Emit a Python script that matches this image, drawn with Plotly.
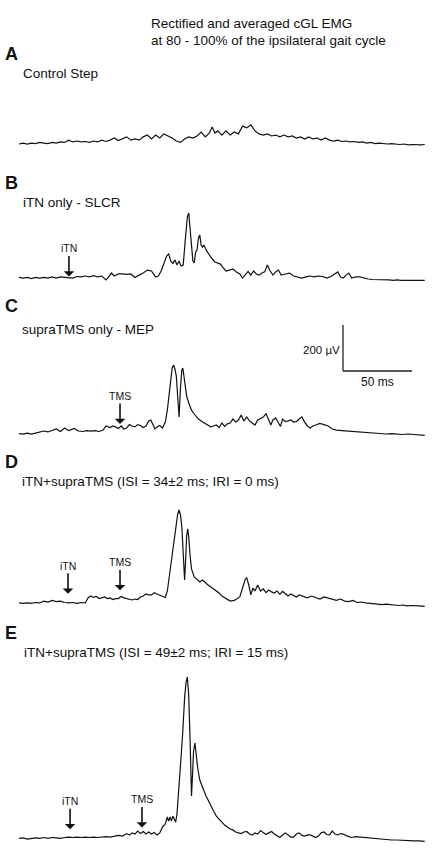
import numpy as np
import plotly.graph_objects as go

# ---- data: rectified, averaged cGL EMG (time in ms, amplitude in µV) ----
a_t = [0, 3, 6, 9, 12, 15, 18, 21, 24, 27,
       30, 33, 36, 39, 42, 45, 48, 51, 54, 57,
       60, 63, 66, 69, 72, 75, 78, 81, 84, 87,
       90, 93, 96, 99, 102, 105, 108, 111, 114, 117,
       120, 123, 126, 129, 132, 135, 138, 140, 142, 144,
       147, 150, 153, 156, 159, 162, 165, 168, 171, 174,
       177, 180, 183, 186, 189, 192, 195, 198, 201, 204,
       207, 210, 213, 216, 219, 222, 225, 228, 231, 234,
       237, 240, 243, 246, 249, 252, 255, 258, 261, 264,
       267, 270, 273, 276, 279, 282, 285, 288, 291, 294]
a_uv = [26, 30, 26, 30, 28, 33, 30, 28, 33, 30,
        35, 33, 43, 35, 39, 35, 37, 33, 39, 35,
        43, 37, 43, 52, 41, 48, 57, 43, 48, 43,
        57, 65, 48, 65, 52, 70, 61, 52, 39, 33,
        48, 57, 52, 61, 78, 57, 74, 100, 74, 83,
        65, 83, 65, 78, 70, 104, 96, 109, 83, 70,
        65, 70, 61, 65, 57, 65, 57, 61, 52, 57,
        48, 57, 48, 52, 43, 52, 43, 39, 43, 37,
        39, 35, 37, 33, 35, 30, 33, 28, 30, 28,
        26, 28, 26, 24, 26, 22, 24, 22, 22, 24]

b_t = [0, 3, 6, 9, 12, 15, 18, 21, 24, 27,
       30, 33, 36, 39, 42, 45, 48, 51, 54, 57,
       60, 63, 65, 67, 69, 72, 75, 78, 81, 84,
       87, 90, 93, 96, 99, 101, 103, 105, 107, 108.5,
       110, 111.5, 113, 114.5, 116, 117.5, 119, 120.5, 122, 123,
       124, 125, 126, 127, 128, 129, 130, 131, 132, 133,
       134, 136, 138, 140, 142, 144, 146, 148, 150, 152.5,
       155, 157.5, 160, 162, 164, 166, 168, 170, 172, 174,
       176, 178, 180, 182, 184, 186, 188, 190, 193, 196,
       199, 202, 205, 208, 211, 214, 217, 220, 223, 226,
       229, 231, 233, 235, 237, 239, 241, 244, 247, 250,
       253, 256, 259, 262, 265, 268, 271, 274, 277, 280,
       283, 286, 289, 292, 294]
b_uv = [33, 30, 33, 28, 33, 30, 33, 30, 35, 30,
        35, 33, 33, 30, 37, 35, 39, 35, 41, 35,
        39, 22, 35, 52, 39, 48, 48, 46, 48, 33,
        43, 52, 65, 61, 35, 39, 61, 91, 126, 135,
        104, 94, 109, 87, 104, 83, 87, 196, 296, 313,
        252, 174, 104, 96, 144, 152, 204, 217, 174, 165,
        174, 148, 130, 113, 100, 96, 91, 74, 61, 65,
        70, 57, 48, 30, 43, 59, 43, 61, 48, 43,
        52, 57, 87, 61, 43, 57, 65, 43, 48, 52,
        39, 35, 30, 35, 39, 35, 39, 37, 30, 37,
        48, 57, 35, 30, 43, 52, 30, 35, 35, 30,
        26, 24, 24, 22, 24, 22, 20, 22, 20, 20,
        17, 20, 17, 17, 20]

c_t = [0, 3, 6, 9, 12, 15, 18, 21, 24, 27,
       30, 33, 36, 38, 40, 43, 46, 49, 52, 55,
       58, 61, 63, 66, 68, 70, 72, 74, 76, 78,
       80, 82, 84, 86, 88, 90, 92, 94, 95.5, 97,
       98.5, 100, 102, 104, 106, 107.5, 109, 110, 111, 112,
       113, 114, 115, 116, 117, 118, 118.7, 120, 121.5, 123,
       125, 127, 130, 133, 136, 139, 141, 143, 145, 147,
       149, 151, 153, 155, 157, 159, 161, 163, 165, 167,
       169, 171, 173, 175, 177, 179, 181, 182.5, 184, 186,
       188, 189.5, 191, 193, 195, 197, 199, 201, 203, 205,
       207, 209, 211, 213, 215, 218, 221, 224, 227, 230,
       234, 238, 242, 246, 250, 254, 258, 262, 266, 270,
       274, 278, 282, 286, 290, 294]
c_uv = [28, 26, 30, 26, 30, 35, 39, 35, 41, 48,
        37, 52, 41, 46, 50, 39, 37, 41, 39, 41,
        37, 43, 61, 54, 61, 57, 50, 61, 48, 52,
        67, 61, 57, 67, 63, 54, 61, 83, 87, 67,
        48, 57, 63, 52, 78, 130, 217, 274, 313, 326,
        309, 278, 196, 100, 226, 304, 313, 244, 191, 161,
        130, 113, 91, 78, 67, 57, 61, 65, 54, 74,
        59, 70, 74, 91, 78, 87, 109, 83, 100, 83,
        74, 65, 87, 94, 100, 115, 87, 65, 87, 96,
        74, 59, 91, 80, 83, 87, 78, 80, 91, 100,
        78, 61, 52, 61, 65, 72, 67, 61, 48, 43,
        41, 39, 37, 35, 33, 30, 30, 28, 26, 28,
        26, 24, 26, 24, 22, 20]

d_t = [0, 3, 6, 9, 12, 15, 18, 21, 24, 27,
       30, 33, 36, 39, 42, 45, 48, 50, 52, 54,
       56, 58, 60, 62, 64, 66, 68, 70, 72, 74,
       76, 78, 80, 82, 84, 86, 88, 90, 92, 94,
       96, 98, 100, 102, 104, 106, 107.5, 109, 110.5, 112,
       113.5, 115, 116, 117, 118, 119, 120, 120.7, 121.5, 122.3,
       123, 124, 125, 127, 129, 131, 133, 135, 137, 139,
       141, 143, 145, 147, 149, 151, 153, 156, 158, 160,
       162, 164, 165, 166.5, 168, 169.5, 171, 173, 175, 177,
       179, 181, 183, 185, 187, 189, 191, 193, 195, 197,
       199, 201, 203, 206, 209, 212, 215, 218, 221, 224,
       227, 230, 233, 236, 239, 242, 245, 248, 251, 254,
       257, 260, 263, 266, 269, 272, 275, 278, 281, 284,
       287, 290, 294]
d_uv = [35, 33, 35, 33, 37, 35, 43, 39, 46, 41,
        43, 37, 35, 37, 33, 37, 35, 57, 65, 59,
        63, 54, 57, 61, 54, 57, 50, 54, 54, 63,
        57, 54, 50, 48, 52, 50, 61, 65, 74, 70,
        70, 80, 74, 70, 65, 59, 87, 152, 217, 296,
        365, 422, 439, 418, 365, 239, 135, 217, 326, 357,
        322, 239, 183, 148, 135, 126, 135, 122, 113, 104,
        96, 87, 78, 65, 57, 48, 43, 46, 52, 61,
        100, 139, 144, 113, 70, 100, 87, 113, 87, 96,
        80, 91, 83, 78, 87, 72, 85, 76, 65, 74,
        68, 61, 70, 63, 57, 65, 59, 52, 61, 55,
        50, 46, 52, 43, 41, 46, 37, 39, 35, 33,
        33, 30, 28, 30, 28, 26, 24, 26, 22, 24,
        24, 22, 20]

e_t = [0, 3, 6, 9, 12, 15, 18, 21, 24, 27,
       30, 33, 36, 39, 42, 45, 48, 51, 54, 57,
       60, 63, 66, 69, 72, 75, 78, 80, 82, 84,
       86, 88, 90, 92, 94, 96, 98, 100, 102, 104,
       106, 107.5, 108.5, 109.5, 110.5, 111.5, 112.5, 113.5, 114.5, 115.5,
       117, 118.5, 120, 121, 122, 123, 124, 125, 125.7, 126.5,
       127.5, 128.5, 129.5, 131, 132.5, 134, 135.5, 137, 139, 141,
       143, 145, 147, 149, 151, 153, 155, 157, 159, 161,
       163, 165, 167, 169, 171, 173, 175, 177, 179, 181,
       183, 185, 187, 189, 191, 193, 195, 197, 199, 201,
       203, 205, 207, 209, 211, 213, 215, 217, 219, 221,
       223, 225, 227, 229, 231, 233, 235, 238, 241, 244,
       247, 250, 254, 258, 262, 266, 270, 274, 278, 282,
       286, 290, 294]
e_uv = [33, 35, 30, 33, 35, 33, 37, 33, 37, 35,
        33, 37, 39, 37, 39, 37, 39, 37, 39, 37,
        39, 41, 39, 43, 46, 43, 54, 48, 57, 52,
        65, 54, 63, 52, 61, 52, 59, 48, 57, 83,
        96, 126, 109, 126, 109, 130, 117, 104, 139, 217,
        348, 478, 644, 709, 735, 652, 457, 217, 304, 413,
        448, 391, 339, 287, 261, 239, 217, 200, 174, 152,
        130, 117, 100, 91, 83, 74, 70, 61, 57, 54,
        61, 63, 52, 48, 57, 52, 67, 57, 50, 57,
        63, 52, 43, 37, 48, 57, 48, 39, 39, 52,
        57, 46, 43, 48, 48, 43, 37, 43, 57, 61,
        50, 48, 65, 52, 48, 54, 52, 43, 37, 41,
        39, 37, 35, 33, 30, 28, 26, 26, 24, 24,
        22, 22, 20]

# stimulus times (ms)
b_stims = [("iTN", 36.2)]
c_stims = [("TMS", 73.2)]
d_stims = [("iTN", 35.5), ("TMS", 73.2)]
e_stims = [("iTN", 37.0), ("TMS", 89.1)]

# ---- layout geometry ----
W, H = 432, 850
UV_PER_PX = 200 / 46     # 200 µV calibration bar
MS_PER_PX = 50 / 69      # 50 ms calibration bar
X0 = 19                  # screen x of t = 0
FONT = "Liberation Sans, Arial, sans-serif"

panels = [
    dict(letter="A", label="Control Step", t=a_t, uv=a_uv, stims=[],
         top=100, bottom=160, zero=150, letter_y=54, label_y=73, label_x=21, gaps=[]),
    dict(letter="B", label="iTN only - SLCR", t=b_t, uv=b_uv, stims=b_stims,
         top=200, bottom=295, zero=285, letter_y=183, label_y=202, label_x=21, gaps=[1]),
    dict(letter="C", label="supraTMS only - MEP", t=c_t, uv=c_uv, stims=c_stims,
         top=318, bottom=450, zero=440, letter_y=306, label_y=330, label_x=20, gaps=[3]),
    dict(letter="D", label="iTN+supraTMS (ISI = 34\u00b12 ms; IRI = 0 ms)", t=d_t, uv=d_uv,
         stims=d_stims, top=500, bottom=620, zero=611, letter_y=462, label_y=482,
         label_x=20, gaps=[9, 7]),
    dict(letter="E", label="iTN+supraTMS (ISI = 49\u00b12 ms; IRI = 15 ms)", t=e_t, uv=e_uv,
         stims=e_stims, top=665, bottom=850, zero=846, letter_y=633, label_y=652,
         label_x=22, gaps=[8, 5]),
]

fig = go.Figure()
annotations = []
shapes = []


def paper(x, y):
    return x / W, 1 - y / H


layout_axes = {}
for i, p in enumerate(panels):
    n = "" if i == 0 else str(i + 1)
    yname = "y" + n
    fig.add_trace(go.Scatter(
        x=p["t"], y=p["uv"], mode="lines", xaxis="x", yaxis=yname,
        line=dict(color="#111111", width=1.2), hoverinfo="skip", showlegend=False))
    layout_axes["yaxis" + n] = dict(
        domain=[1 - p["bottom"] / H, 1 - p["top"] / H],
        range=[(p["zero"] - p["bottom"]) * UV_PER_PX, (p["zero"] - p["top"]) * UV_PER_PX],
        anchor="x", visible=False, fixedrange=True)

    lx, ly = paper(3, p["letter_y"])
    annotations.append(dict(text="<b>%s</b>" % p["letter"], x=lx, y=ly, xref="paper",
                            yref="paper", xanchor="left", yanchor="middle", showarrow=False,
                            font=dict(family=FONT, size=18, color="#111111")))
    tx, ty = paper(p["label_x"], p["label_y"])
    annotations.append(dict(text=p["label"], x=tx, y=ty, xref="paper", yref="paper",
                            xanchor="left", yanchor="middle", showarrow=False,
                            font=dict(family=FONT, size=13.5, color="#111111")))

    for (name, ts), gap in zip(p["stims"], p["gaps"]):
        level = float(np.interp(ts, p["t"], p["uv"])) + gap * UV_PER_PX
        annotations.append(dict(text=name, x=ts, y=level, xref="x", yref=yname,
                                showarrow=True, arrowhead=1, arrowsize=1.1, arrowwidth=1.6,
                                arrowcolor="#111111", ax=0, ay=-28, standoff=0,
                                font=dict(family=FONT, size=10.5, color="#111111")))

# title
for txt, yy in [("Rectified and averaged cGL EMG", 24),
                 ("at 80 - 100% of the ipsilateral gait cycle", 40)]:
    px_, py_ = paper(149, yy)
    annotations.append(dict(text=txt, x=px_, y=py_, xref="paper", yref="paper",
                            xanchor="left", yanchor="middle", showarrow=False,
                            font=dict(family=FONT, size=13.5, color="#111111")))

# calibration bar in panel C
bar_t = (343 - X0) * MS_PER_PX
bar_base = (440 - 371) * UV_PER_PX
shapes.append(dict(type="line", xref="x", yref="y3", x0=bar_t, x1=bar_t,
                   y0=bar_base, y1=bar_base + 200, line=dict(color="#222222", width=1.3)))
shapes.append(dict(type="line", xref="x", yref="y3", x0=bar_t, x1=bar_t + 50,
                   y0=bar_base, y1=bar_base, line=dict(color="#222222", width=1.3)))
annotations.append(dict(text="200 \u00b5V", x=bar_t, y=bar_base + 92, xref="x", yref="y3",
                        xanchor="right", yanchor="middle", xshift=-1, showarrow=False,
                        font=dict(family=FONT, size=11.5, color="#111111")))
annotations.append(dict(text="50 ms", x=bar_t + 25, y=bar_base - 48, xref="x", yref="y3",
                        xanchor="center", yanchor="middle", showarrow=False,
                        font=dict(family=FONT, size=12, color="#111111")))

fig.update_layout(
    width=W, height=H, margin=dict(l=0, r=0, t=0, b=0),
    paper_bgcolor="white", plot_bgcolor="white",
    xaxis=dict(domain=[0, 1], range=[-X0 * MS_PER_PX, (W - X0) * MS_PER_PX],
               visible=False, fixedrange=True),
    annotations=annotations, shapes=shapes, **layout_axes)

# the page's default body margin would shift the figure by 8 px
fig.write_html("out.html", config={"displayModeBar": False},
               post_script="document.body.style.margin='0';"
               "document.body.style.overflow='hidden';")
